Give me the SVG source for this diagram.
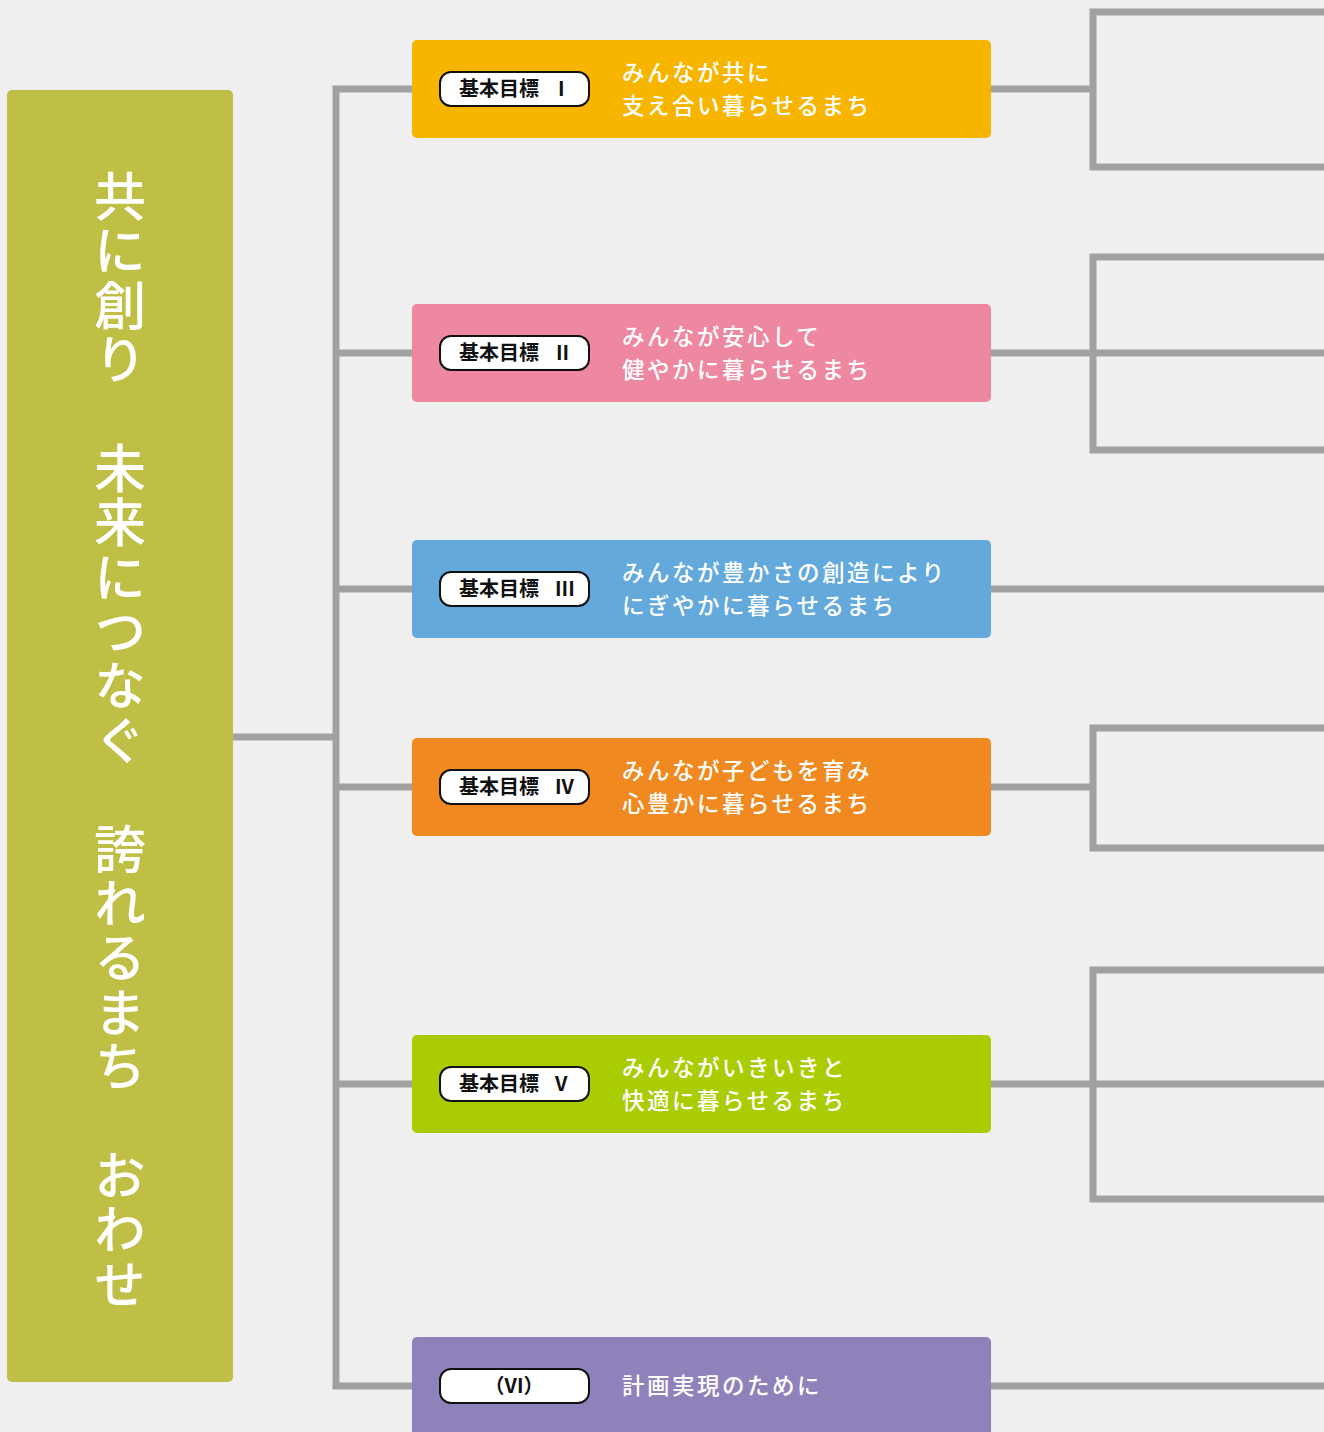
<svg xmlns="http://www.w3.org/2000/svg" width="1324" height="1432" viewBox="0 0 1324 1432">
<style>
.ln{stroke:#a0a1a0;stroke-width:7;fill:none;stroke-linejoin:miter;stroke-linecap:butt}
.box{stroke:none}
.badge{fill:#ffffff;stroke:#111111;stroke-width:2}
.bt{font-family:"Noto Sans CJK JP","Noto Sans",sans-serif;font-size:20px;font-weight:700;fill:#111111}
.tt{font-family:"Noto Sans CJK JP","Noto Sans",sans-serif;font-size:22.5px;letter-spacing:2.5px;font-weight:500;fill:#ffffff}
.vt{font-family:"Noto Sans CJK JP","Noto Sans",sans-serif;font-size:52px;font-weight:500;fill:#ffffff;writing-mode:vertical-rl;letter-spacing:2.4px}
</style>
<rect x="0" y="0" width="1324" height="1432" fill="#efefef"/>
<g id="connectors">
<path class="ln" d="M233,737 H336"/>
<path class="ln" d="M412,89 H336 V1386 H412"/>
<path class="ln" d="M336,353 H412"/>
<path class="ln" d="M336,589 H412"/>
<path class="ln" d="M336,787 H412"/>
<path class="ln" d="M336,1084 H412"/>
<path class="ln" d="M991,89 H1093"/>
<path class="ln" d="M1324,12 H1093 V167 H1324"/>
<path class="ln" d="M991,353 H1324"/>
<path class="ln" d="M1324,257 H1093 V450 H1324"/>
<path class="ln" d="M991,589 H1324"/>
<path class="ln" d="M991,787 H1093"/>
<path class="ln" d="M1324,728 H1093 V848 H1324"/>
<path class="ln" d="M991,1084 H1324"/>
<path class="ln" d="M1324,970 H1093 V1199 H1324"/>
<path class="ln" d="M991,1386 H1324"/>
</g>
<g id="vision">
<rect x="7" y="90" width="226" height="1292" rx="5" fill="#bfbe45"/>
<text class="vt" x="120" y="170">共に創り　未来につなぐ　誇れるまち　おわせ</text>
</g>
<g id="goal1">
<rect class="box" x="412" y="40" width="579" height="98" rx="5" fill="#f7b500"/>
<rect class="badge" x="440" y="72" width="149" height="34" rx="11"/>
<text class="bt" x="459" y="96">基本目標<tspan x="558">I</tspan></text>
<text class="tt" x="622" y="81">みんなが共に<tspan x="622" dy="33">支え合い暮らせるまち</tspan></text>
</g>
<g id="goal2">
<rect class="box" x="412" y="304" width="579" height="98" rx="5" fill="#ee87a0"/>
<rect class="badge" x="440" y="336" width="149" height="34" rx="11"/>
<text class="bt" x="459" y="360">基本目標<tspan x="556">II</tspan></text>
<text class="tt" x="622" y="345">みんなが安心して<tspan x="622" dy="33">健やかに暮らせるまち</tspan></text>
</g>
<g id="goal3">
<rect class="box" x="412" y="540" width="579" height="98" rx="5" fill="#63a9dc"/>
<rect class="badge" x="440" y="572" width="149" height="34" rx="11"/>
<text class="bt" x="459" y="596">基本目標<tspan x="555">III</tspan></text>
<text class="tt" x="622" y="581">みんなが豊かさの創造により<tspan x="622" dy="33">にぎやかに暮らせるまち</tspan></text>
</g>
<g id="goal4">
<rect class="box" x="412" y="738" width="579" height="98" rx="5" fill="#f0891f"/>
<rect class="badge" x="440" y="770" width="149" height="34" rx="11"/>
<text class="bt" x="459" y="794">基本目標<tspan x="555">IV</tspan></text>
<text class="tt" x="622" y="779">みんなが子どもを育み<tspan x="622" dy="33">心豊かに暮らせるまち</tspan></text>
</g>
<g id="goal5">
<rect class="box" x="412" y="1035" width="579" height="98" rx="5" fill="#aacc03"/>
<rect class="badge" x="440" y="1067" width="149" height="34" rx="11"/>
<text class="bt" x="459" y="1091">基本目標<tspan x="555">V</tspan></text>
<text class="tt" x="622" y="1076">みんながいきいきと<tspan x="622" dy="33">快適に暮らせるまち</tspan></text>
</g>
<g id="goal6">
<rect class="box" x="412" y="1337" width="579" height="110" rx="5" fill="#8f82bb"/>
<rect class="badge" x="440" y="1369" width="149" height="34" rx="11"/>
<text class="bt" x="514" y="1393" text-anchor="middle">（VI）</text>
<text class="tt" x="622" y="1394">計画実現のために</text>
</g>
</svg>
